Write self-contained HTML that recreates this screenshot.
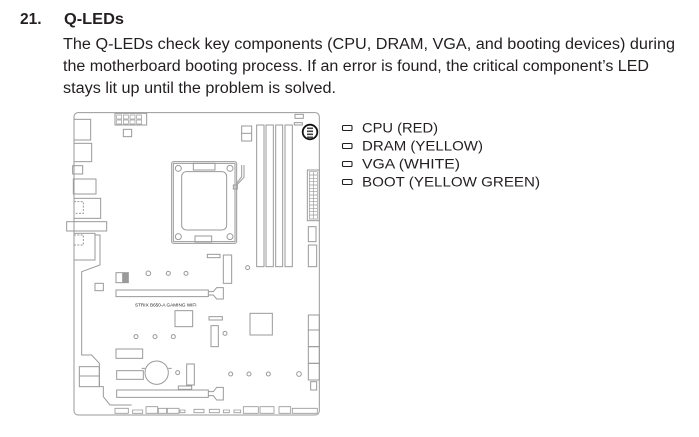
<!DOCTYPE html>
<html><head><meta charset="utf-8"><style>
html,body{margin:0;padding:0;background:#fff;}
svg{display:block;}
text{font-family:"Liberation Sans",Arial,sans-serif;fill:#231f20;}
</style></head><body>
<svg width="699" height="437" viewBox="0 0 699 437" xmlns="http://www.w3.org/2000/svg">
<text x="20" y="24" font-size="15.5" font-weight="bold">21.</text>
<text x="64" y="24" font-size="15.5" font-weight="bold" textLength="60" lengthAdjust="spacingAndGlyphs">Q-LEDs</text>
<text x="63" y="49" font-size="15.5" textLength="612" lengthAdjust="spacingAndGlyphs">The Q-LEDs check key components (CPU, DRAM, VGA, and booting devices) during</text>
<text x="63" y="71" font-size="15.5" textLength="586" lengthAdjust="spacingAndGlyphs">the motherboard booting process. If an error is found, the critical component’s LED</text>
<text x="63" y="93" font-size="15.5" textLength="273" lengthAdjust="spacingAndGlyphs">stays lit up until the problem is solved.</text>

<g fill="none" stroke="#231f20" stroke-width="1.1">
<rect x="342.5" y="125.5" width="9.5" height="5" rx="1"/>
<rect x="342.5" y="143.5" width="9.5" height="5" rx="1"/>
<rect x="342.5" y="161.5" width="9.5" height="5" rx="1"/>
<rect x="342.5" y="179.5" width="9.5" height="5" rx="1"/>
</g>
<text x="362" y="132.5" font-size="14" textLength="76" lengthAdjust="spacingAndGlyphs">CPU (RED)</text>
<text x="362" y="150.5" font-size="14" textLength="121" lengthAdjust="spacingAndGlyphs">DRAM (YELLOW)</text>
<text x="362" y="168.5" font-size="14" textLength="98" lengthAdjust="spacingAndGlyphs">VGA (WHITE)</text>
<text x="362" y="186.5" font-size="14" textLength="178" lengthAdjust="spacingAndGlyphs">BOOT (YELLOW GREEN)</text>

<g transform="translate(60 100) scale(0.33333)" fill="none" stroke="#9a9a9a" stroke-width="3">
<rect x="42" y="38" width="736" height="907" rx="12"/>
<rect x="42" y="58" width="50" height="62"/>
<rect x="42" y="130" width="53" height="55"/>
<rect x="38" y="197" width="30" height="25"/>
<rect x="40" y="237" width="68" height="45"/>
<rect x="42" y="295" width="80" height="60"/>
<rect x="42" y="305" width="28" height="35" stroke-dasharray="6 4"/>
<rect x="20" y="365" width="120" height="28"/>
<rect x="42" y="400" width="63" height="80"/>
<rect x="42" y="405" width="28" height="30" stroke-dasharray="6 4"/>
<path d="M105 405 H120 V495 L65 515 V765 H95 L118 790 V860 H130 V890 L150 915 H215"/>
<rect x="58" y="800" width="60" height="60"/>
<line x1="58" y1="828" x2="118" y2="828"/>
<rect x="165" y="40" width="95" height="35"/>
<path d="M170 45h15v12h-15zM190 45h15v12h-15zM210 45h15v12h-15zM230 45h15v12h-15zM170 60h15v12h-15zM190 60h15v12h-15zM210 60h15v12h-15zM230 60h15v12h-15z" stroke-width="2"/>
<rect x="190" y="88" width="25" height="22"/>
<rect x="545" y="78" width="30" height="45"/>
<line x1="545" y1="100" x2="575" y2="100"/>
<rect x="705" y="43" width="25" height="12"/>
<rect x="703" y="68" width="24" height="7"/>
<rect x="590" y="75" width="22" height="425"/>
<rect x="618" y="75" width="22" height="425"/>
<rect x="647" y="75" width="21" height="425"/>
<rect x="675" y="75" width="22" height="425"/>
<path d="M340 190 H525 V425 H340 Z"/>
<rect x="335" y="185" width="195" height="245" rx="6"/>
<rect x="365" y="215" width="135" height="175" rx="14"/>
<circle cx="355" cy="205" r="9"/><circle cx="510" cy="205" r="9"/>
<circle cx="355" cy="410" r="9"/><circle cx="510" cy="410" r="9"/>
<rect x="400" y="190" width="65" height="20"/>
<rect x="405" y="408" width="50" height="18"/>
<path d="M530 250 L545 230 V195 M530 255 L552 232 V195"/>
<rect x="520" y="255" width="12" height="12"/>
<rect x="742" y="210" width="36" height="152"/>
<path d="M748 215h24v142h-24z M760 215v142 M748 225h24M748 235h24M748 245h24M748 255h24M748 265h24M748 275h24M748 285h24M748 295h24M748 305h24M748 315h24M748 325h24M748 335h24M748 345h24" stroke-width="2"/>
<rect x="745" y="380" width="23" height="45"/>
<rect x="745" y="435" width="25" height="65"/>
<rect x="105" y="550" width="25" height="22"/>
<rect x="168" y="518" width="37" height="30"/>
<rect x="188" y="520" width="15" height="26" fill="#9a9a9a"/>
<circle cx="265" cy="520" r="7"/><circle cx="325" cy="520" r="6"/><circle cx="378" cy="520" r="6"/><circle cx="563" cy="503" r="6"/>
<path d="M168 570 H445 V590 H168 Z M445 575 H460 L470 563 H490 V597 H470 L460 585 H445"/>
<rect x="490" y="465" width="25" height="85"/>
<rect x="442" y="463" width="38" height="10"/>
<rect x="345" y="632" width="53" height="48"/>
<rect x="570" y="640" width="67" height="65"/>
<rect x="453" y="677" width="22" height="63"/>
<rect x="447" y="650" width="40" height="10"/>
<circle cx="228" cy="710" r="6"/><circle cx="285" cy="710" r="6"/><circle cx="340" cy="710" r="6"/><circle cx="495" cy="700" r="6"/>
<rect x="745" y="645" width="33" height="45"/>
<rect x="745" y="690" width="33" height="50"/>
<rect x="745" y="740" width="33" height="50"/>
<rect x="745" y="790" width="33" height="50"/>
<rect x="752" y="845" width="18" height="25"/>
<rect x="168" y="747" width="80" height="28"/>
<rect x="170" y="812" width="80" height="26"/>
<circle cx="290" cy="818" r="35"/>
<path d="M255 805 H245 M325 805 H335"/>
<circle cx="353" cy="818" r="6"/><circle cx="512" cy="822" r="6"/><circle cx="567" cy="822" r="6"/><circle cx="625" cy="822" r="6"/><circle cx="717" cy="822" r="7"/>
<rect x="380" y="792" width="23" height="63"/>
<rect x="355" y="858" width="40" height="10"/>
<path d="M170 870 H445 V892 H170 Z M445 875 H460 L470 862 H490 V900 H470 L460 887 H445"/>
<path d="M165 925h40v15h-40z M218 930h30v10h-30z M258 920h35v20h-35z M295 925h25v15h-25z M322 925h35v15h-35z M360 930h15v8h-15z M402 928h30v10h-30z M448 928h30v10h-30z M490 930h18v8h-18z M522 930h20v8h-20z M550 920h45v20h-45z M600 920h42v20h-42z M657 920h35v20h-35z M697 925h75v15h-75z" stroke-width="2.5"/>
<text x="225" y="620" font-size="14" fill="#9a9a9a" stroke="none">STRIX B650-A GAMING WIFI</text>
</g>
<circle cx="310" cy="132" r="7.3" fill="none" stroke="#111" stroke-width="1.8"/>
<g fill="#444"><rect x="307" y="127.5" width="6" height="1.6"/><rect x="307" y="130.5" width="6" height="1.6"/><rect x="307" y="133.5" width="6" height="1.6"/><rect x="307" y="136.5" width="6" height="1.6"/></g>
</svg>
</body></html>
